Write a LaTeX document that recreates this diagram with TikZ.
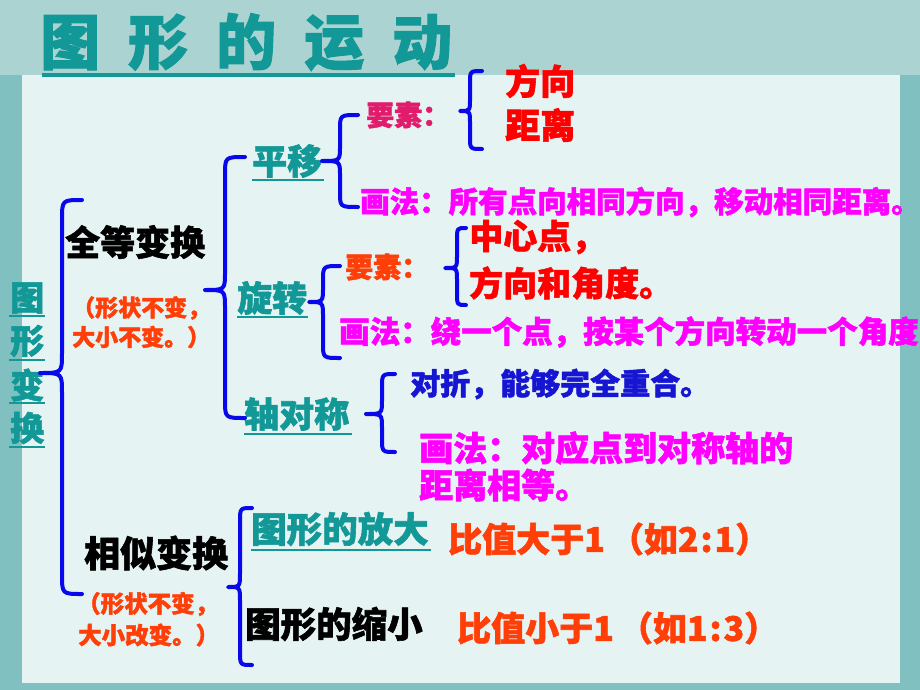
\documentclass[tikz,border=0pt]{standalone}
\usepackage{fontspec}
\newfontfamily\cjk{Noto Sans CJK SC}[BoldFeatures={FakeBold=1.6}]
\definecolor{tl}{RGB}{18,152,150}
\definecolor{bl}{RGB}{8,8,235}
\definecolor{pk}{RGB}{226,28,108}
\definecolor{orr}{RGB}{255,62,8}
\definecolor{rd}{RGB}{255,0,0}
\definecolor{mg}{RGB}{255,0,255}
\definecolor{btx}{RGB}{22,22,210}
\definecolor{panel}{RGB}{230,243,243}
\definecolor{framec}{RGB}{128,192,192}
\definecolor{topband}{RGB}{170,211,209}
\newcommand\fsz[1]{\fontsize{#1}{#1}\selectfont}
% brace: #1 end x, #2 vertical x, #3 tip x, #4 top y, #5 tip y, #6 bottom y, #7 hook radius
\newcommand\mybrace[7]{%
  \draw[brc] (#1,#4) .. controls (#2,#4) .. (#2,#4+#7) -- (#2,#5-#7)
    .. controls (#2,#5) .. (#3,#5) .. controls (#2,#5) .. (#2,#5+#7)
    -- (#2,#6-#7) .. controls (#2,#6) .. (#1,#6);}
\tikzset{
  txt/.style={inner sep=0pt, anchor=west, font=\cjk\bfseries},
  brc/.style={draw=bl, line width=4pt, line cap=round, line join=round},
  uline/.style={draw=tl, line width=2.6pt},
}
\begin{document}
\begin{tikzpicture}[x=1pt,y=-1pt]
\useasboundingbox (0,0) rectangle (920,690);
% background
\fill[framec] (0,0) rectangle (920,690);
\fill[topband] (0,0) rectangle (920,75);
\fill[panel] (22,75) rectangle (900,683);
% title
\node[txt, text=tl, font=\cjk\bfseries\fsz{60}] (title) at (40,42)
  {图\hspace{28pt}形\hspace{28pt}的\hspace{28pt}运\hspace{28pt}动};
\draw[tl, line width=4pt] (42,75) -- (455,75);
% vertical root
\node[txt, text=tl, font=\cjk\bfseries\fsz{34}] (r1) at (10,298) {图};
\node[txt, text=tl, font=\cjk\bfseries\fsz{34}] (r2) at (10,341) {形};
\node[txt, text=tl, font=\cjk\bfseries\fsz{34}] (r3) at (10,385) {变};
\node[txt, text=tl, font=\cjk\bfseries\fsz{34}] (r4) at (10,428) {换};
\draw[uline] (9,316) -- (45,316);
\draw[uline] (9,360) -- (45,360);
\draw[uline] (9,403) -- (45,403);
\draw[uline] (9,447) -- (45,447);
% level 1
\node[txt, font=\cjk\bfseries\fsz{35}] (qd) at (65,242) {全等变换};
\node[txt, text=orr, font=\cjk\bfseries\fsz{23}] (qd1) at (72,308) {（形状不变，};
\node[txt, text=orr, font=\cjk\bfseries\fsz{23}] (qd2) at (72,337) {大小不变。）};
\node[txt, font=\cjk\bfseries\fsz{36}] (xs) at (84,553) {相似变换};
\node[txt, text=orr, font=\cjk\bfseries\fsz{23.5}] (xs1) at (77,604) {（形状不变，};
\node[txt, text=orr, font=\cjk\bfseries\fsz{23.5}] (xs2) at (78,635) {大小改变。）};
% translation
\node[txt, text=tl, font=\cjk\bfseries\fsz{35}] (py) at (252,161) {平移};
\draw[uline] (252,180) -- (324,180);
\node[txt, text=pk, font=\cjk\bfseries\fsz{28}] (pyys) at (366,115) {要素：};
\node[txt, text=rd, font=\cjk\bfseries\fsz{35}] (fx) at (505,81) {方向};
\node[txt, text=rd, font=\cjk\bfseries\fsz{35}] (jl) at (505,125) {距离};
\node[txt, text=mg, font=\cjk\bfseries\fsz{29.5}] (pyhf) at (360,202) {画法：所有点向相同方向，移动相同距离。};
% rotation
\node[txt, text=tl, font=\cjk\bfseries\fsz{35}] (xz) at (237,298) {旋转};
\draw[uline] (237,317) -- (308,317);
\node[txt, text=orr, font=\cjk\bfseries\fsz{28}] (xzys) at (345,267) {要素：};
\node[txt, text=rd, font=\cjk\bfseries\fsz{34}] (zxd) at (469,237) {中心点，};
\node[txt, text=rd, font=\cjk\bfseries\fsz{34}] (fxj) at (469,283) {方向和角度。};
\node[txt, text=mg, font=\cjk\bfseries\fsz{30.5}] (xzhf) at (339,332) {画法：绕一个点，按某个方向转动一个角度};
% axial symmetry
\node[txt, text=tl, font=\cjk\bfseries\fsz{35}] (zdc) at (244,414) {轴对称};
\draw[uline] (244,434) -- (352,434);
\node[txt, text=btx, font=\cjk\bfseries\fsz{30}] (dz) at (410,384) {对折，能够完全重合。};
\node[txt, text=mg, font=\cjk\bfseries\fsz{34}] (zdhf1) at (419,448) {画法：对应点到对称轴的};
\node[txt, text=mg, font=\cjk\bfseries\fsz{34}] (zdhf2) at (419,485) {距离相等。};
% similarity
\node[txt, text=tl, font=\cjk\bfseries\fsz{35.5}] (fd) at (251,529) {图形的放大};
\draw[uline] (251,550) -- (431,550);
\node[txt, text=orr, font=\cjk\bfseries\fsz{34}] (fdb) at (448,539) {比值大于1\hspace{5pt}（如2\hspace{2pt}:\hspace{2pt}1）};
\node[txt, font=\cjk\bfseries\fsz{35.5}] (sx) at (245,624) {图形的缩小};
\node[txt, text=orr, font=\cjk\bfseries\fsz{34}] (sxb) at (457,628) {比值小于1\hspace{5pt}（如1\hspace{2pt}:\hspace{2pt}3）};
% braces
\mybrace{82}{62}{40}{200}{373}{594}{20}
\mybrace{245}{225}{205}{157}{290}{418}{18}
\mybrace{482}{470}{460}{71}{111}{149}{12}
\mybrace{358}{340}{322}{115}{161}{207}{15}
\mybrace{466}{457}{445}{228}{268}{305}{12}
\mybrace{340}{323}{309}{266}{302}{358}{15}
\mybrace{395}{382}{366}{374}{414}{452}{14}
\mybrace{252}{240}{228}{508}{587}{665}{14}
\end{tikzpicture}
\end{document}
